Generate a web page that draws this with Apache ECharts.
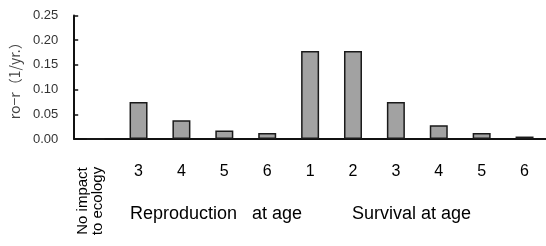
<!DOCTYPE html>
<html>
<head>
<meta charset="utf-8">
<script src="https://cdn.jsdelivr.net/npm/echarts@6/dist/echarts.min.js"></script>
<style>
  html, body { margin: 0; padding: 0; background: #fff; }
  #main { width: 546px; height: 246px; }
</style>
</head>
<body>
<div id="main"></div>
<script>
// categories along the x axis
var categories = ['No impact\nto ecology', '3', '4', '5', '6', '1', '2', '3', '4', '5', '6'];
// r0 - r values
var values = [0, 0.075, 0.038, 0.017, 0.012, 0.178, 0.178, 0.075, 0.028, 0.012, 0.005];
var yTicks = [0, 0.05, 0.10, 0.15, 0.20, 0.25];
var groupLabels = ['Reproduction   at age', 'Survival at age'];

var chart = echarts.init(document.getElementById('main'), null, { renderer: 'canvas' });

var option = {
  animation: false,
  backgroundColor: '#fff',
  grid: {
    left: 71,
    top: 15.5,
    width: 484,
    height: 123.5
  },
  xAxis: {
    type: 'category',
    data: categories,
    axisLine: { lineStyle: { color: '#111', width: 2 } },
    axisTick: { inside: true, length: 4, interval: 0, lineStyle: { color: '#111', width: 1.5 } },
    axisLabel: {
      interval: 0,
      margin: 25,
      color: '#000',
      fontFamily: 'Liberation Sans, Arial',
      fontSize: 16,
      formatter: function (v, i) { return i === 0 ? '' : v; }
    },
    splitLine: { show: false }
  },
  yAxis: {
    type: 'value',
    min: 0,
    max: yTicks[yTicks.length - 1],
    interval: 0.05,
    name: 'ro−r（1/yr.）',
    nameLocation: 'middle',
    nameGap: 51,
    nameTextStyle: { color: '#444', fontSize: 14, fontFamily: 'Noto Sans CJK JP' },
    axisLine: { show: true, lineStyle: { color: '#111', width: 2 } },
    axisTick: { show: true, inside: true, length: 4, lineStyle: { color: '#111', width: 1.5 } },
    axisLabel: {
      color: '#333',
      fontFamily: 'Liberation Sans, Arial',
      fontSize: 13,
      margin: 16,
      formatter: function (v) { return v.toFixed(2); }
    },
    splitLine: { show: false }
  },
  series: [{
    type: 'bar',
    data: values,
    barWidth: 18,
    itemStyle: { color: '#a2a2a2', borderColor: '#1a1a1a', borderWidth: 1.5 }
  }],
  graphic: [
    {
      type: 'text',
      x: 90,
      y: 201,
      rotation: Math.PI / 2,
      style: {
        text: categories[0],
        font: '15px "Liberation Sans", Arial',
        fill: '#000',
        align: 'center',
        verticalAlign: 'middle',
        lineHeight: 15
      }
    },
    {
      type: 'text',
      x: 130,
      y: 214,
      style: {
        text: groupLabels[0],
        font: '18px "Liberation Sans", Arial',
        fill: '#000',
        align: 'left',
        verticalAlign: 'middle'
      }
    },
    {
      type: 'text',
      x: 352,
      y: 214,
      style: {
        text: groupLabels[1],
        font: '18px "Liberation Sans", Arial',
        fill: '#000',
        align: 'left',
        verticalAlign: 'middle'
      }
    }
  ]
};

chart.setOption(option);
</script>
</body>
</html>
